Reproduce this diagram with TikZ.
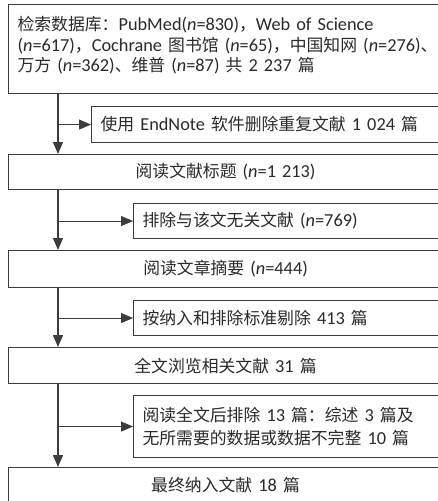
\documentclass[tikz,border=0pt]{standalone}
\usepackage{fontspec}
\setmainfont{Carlito}
\newfontfamily\cjkfont[Scale=0.92]{Noto Sans CJK SC}
\newcommand\zh[1]{{\cjkfont #1}}
\usetikzlibrary{arrows.meta}
\definecolor{linec}{HTML}{3C3C3C}
\definecolor{textc}{HTML}{2A2A2A}
\begin{document}
\begin{tikzpicture}[x=1pt,y=-1pt,
  box/.style={draw=linec, line width=1.1pt, inner ysep=0pt, inner xsep=9pt, anchor=north west, text=textc,
    font=\fontsize{18.3}{20}\selectfont},
  mainbox/.style={box, inner xsep=0pt, text width=434pt, align=center},
  sidebox/.style={box, align=left, text width=440pt},
  arr/.style={draw=linec, line width=1.1pt, -{Triangle[length=12pt,width=10pt]}}
]
\useasboundingbox (0,0) rectangle (438,501);
\fill[white] (0,0) rectangle (438,501);

\node[box, align=left, text width=470pt, minimum height=89pt, text depth=51pt,
      font=\fontsize{18.3}{20.5}\selectfont] (b1) at (8,4)
 {\zh{检索数据库：}PubMed(\textit{n}=830)\zh{，}Web of Science\\
  (\textit{n}=617)\zh{，}Cochrane \zh{图书馆} (\textit{n}=65)\zh{，中国知网} (\textit{n}=276)\zh{、}\\
  \zh{万方} (\textit{n}=362)\zh{、维普} (\textit{n}=87) \zh{共} 2 237 \zh{篇}};

\node[sidebox, minimum height=36pt] (b2) at (91,106)
 {\zh{使用} EndNote \zh{软件删除重复文献} 1 024 \zh{篇}};

\node[mainbox, minimum height=35pt] (b3) at (8,154)
 {\zh{阅读文献标题} (\textit{n}=1 213)};

\node[sidebox, minimum height=35pt] (b4) at (133,203)
 {\zh{排除与该文无关文献} (\textit{n}=769)};

\node[mainbox, minimum height=37pt] (b5) at (8,250)
 {\zh{阅读文章摘要} (\textit{n}=444)};

\node[sidebox, minimum height=35pt] (b6) at (133,300)
 {\zh{按纳入和排除标准剔除} 413 \zh{篇}};

\node[mainbox, minimum height=36pt] (b7) at (8,347)
 {\zh{全文浏览相关文献} 31 \zh{篇}};

\node[sidebox, minimum height=62pt, font=\fontsize{18.3}{23}\selectfont] (b8) at (133,395)
 {\zh{阅读全文后排除} 13 \zh{篇：综述} 3 \zh{篇及}\\
  \zh{无所需要的数据或数据不完整} 10 \zh{篇}};

\node[mainbox, minimum height=36pt] (b9) at (8,467)
 {\zh{最终纳入文献} 18 \zh{篇}};

\coordinate (vx) at (58,0);

\draw[arr] (b1.south -| vx) -- (b3.north -| vx);
\draw[arr] (b2.west -| vx) -- (b2.west);
\draw[arr] (b3.south -| vx) -- (b5.north -| vx);
\draw[arr] (b4.west -| vx) -- (b4.west);
\draw[arr] (b5.south -| vx) -- (b7.north -| vx);
\draw[arr] (b6.west -| vx) -- (b6.west);
\draw[arr] (b7.south -| vx) -- (b9.north -| vx);
\draw[arr] (b8.west -| vx) -- (b8.west);
\end{tikzpicture}
\end{document}
